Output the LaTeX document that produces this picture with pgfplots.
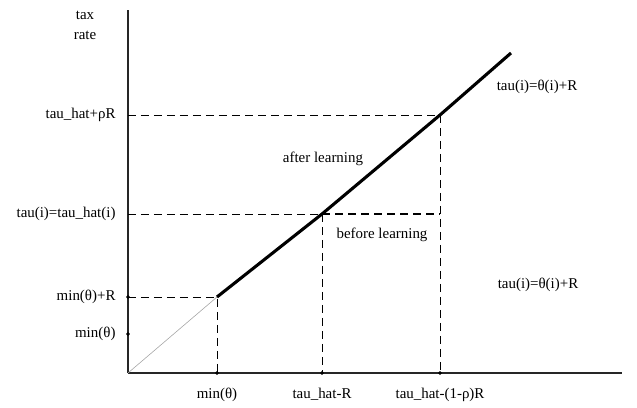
\documentclass[border=0pt]{standalone}
\usepackage{pgfplots}
\pgfplotsset{compat=1.18}
\usepackage{fontspec}
\setmainfont{Liberation Serif}
\begin{document}
\begin{tikzpicture}
\begin{axis}[
  scale only axis, width=494bp, height=363bp,
  xmin=0, xmax=494, ymin=0, ymax=363,
  axis lines=left, axis line style={-, line width=1.2pt, black!85},
  clip=false,
  xtick={89,194,312}, xticklabels={min(θ), tau\_hat-R, tau\_hat-(1-ρ)R},
  ytick={39,76,159,258}, yticklabels={min(θ), min(θ)+R, tau(i)=tau\_hat(i), tau\_hat+ρR},
  major tick length=0pt,
  tick label style={font=\fontsize{15}{17}\selectfont},
  xticklabel style={yshift=-12bp},
  yticklabel style={xshift=-9bp},
  /pgf/number format/assume math mode=true,
]
% gray line from origin
\addplot[gray!70, line width=0.6pt] coordinates {(0,0) (89,76)};
% thin dashed reference lines
\addplot[black, line width=0.9pt, dash pattern=on 8bp off 5bp] coordinates {(0,76) (89,76) (89,0)};
\addplot[black, line width=0.9pt, dash pattern=on 8bp off 5bp] coordinates {(0,159) (194,159)};
\addplot[black, line width=0.9pt, dash pattern=on 8bp off 5bp] coordinates {(194,159) (194,0)};
\addplot[black, line width=0.9pt, dash pattern=on 8bp off 5bp] coordinates {(0,258) (312,258) (312,0)};
% before learning thick dashed
\addplot[black, line width=2.8pt, dash pattern=on 8bp off 5bp] coordinates {(194,159) (312,159)};
% after learning thick line
\addplot[black, line width=3.1pt] coordinates {(89,76) (194,159) (312,258) (383,320)};
% dots on axes
\addplot[only marks, mark=*, mark size=1.6pt, black] coordinates {(0,76) (0,39) (89,0) (194,0) (312,0)};
% labels
\node[font=\fontsize{15}{20}\selectfont, align=center] at (axis cs:-43,348) {tax\\rate};
\node[font=\fontsize{15}{17}\selectfont] at (axis cs:195,214) {after learning};
\node[font=\fontsize{15}{17}\selectfont] at (axis cs:254,138) {before learning};
\node[font=\fontsize{15}{17}\selectfont] at (axis cs:409,286) {tau(i)=θ(i)+R};
\node[font=\fontsize{15}{17}\selectfont] at (axis cs:410,88) {tau(i)=θ(i)+R};
\coordinate (bl) at (axis cs:-128,-35);
\coordinate (tr) at (axis cs:509,373);
\end{axis}
\pgfresetboundingbox
\path[use as bounding box] (bl) rectangle (tr);
\end{tikzpicture}
\end{document}
